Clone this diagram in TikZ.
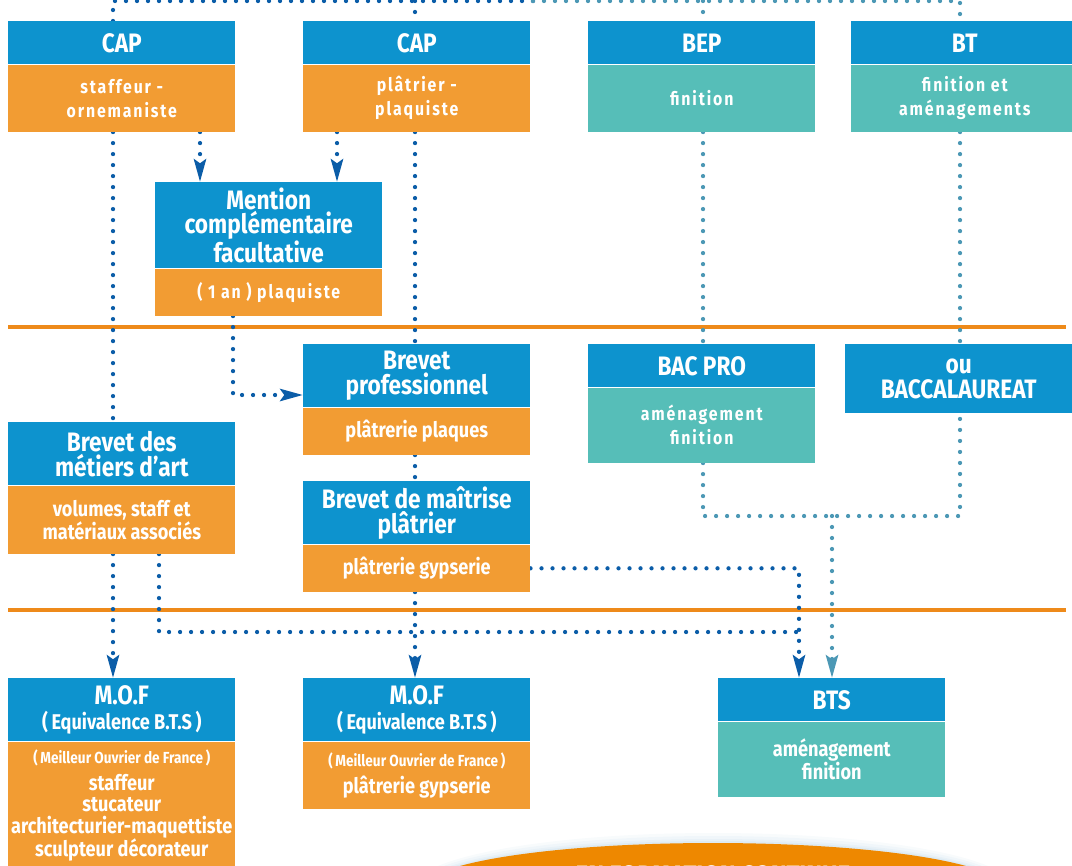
\documentclass[tikz,border=0pt]{standalone}
\usepackage{fontspec}
\setmainfont{Fira Sans}
\newfontfamily\hdfont{Fira Sans}[FakeStretch=0.85]
\newfontfamily\spfont{Fira Sans}[FakeStretch=0.85,LetterSpace=10]
\usetikzlibrary{arrows.meta,backgrounds}
\definecolor{hblue}{HTML}{0D93CE}
\definecolor{borange}{HTML}{F29C33}
\definecolor{bteal}{HTML}{56BEB8}
\definecolor{sepor}{HTML}{EE8A1A}
\definecolor{dkdot}{HTML}{0B5DA8}
\definecolor{ltdot}{HTML}{4C98B5}
\definecolor{ellor}{HTML}{EE8800}
\definecolor{glowc}{HTML}{B8D4E6}
\begin{document}
\begin{tikzpicture}[x=0.75pt,y=-0.75pt,
  box/.style={anchor=north west, inner sep=0pt, minimum width=170.25pt, text=white, align=center},
  hd/.style={box, fill=hblue, font=\hdfont\bfseries\fontsize{20}{18.5}\selectfont},
  sub/.style={font=\spfont\bfseries\fontsize{14}{18}\selectfont},
  pl/.style={font=\hdfont\bfseries\fontsize{16}{17}\selectfont},
  bdo/.style={box, fill=borange, sub},
  bdt/.style={box, fill=bteal, sub},
  hgt/.style={minimum height=#1*0.75pt},
  dk/.style={draw=dkdot, line width=3.2pt, line cap=round, dash pattern=on 0pt off 8.25pt},
  lt/.style={draw=ltdot, line width=3.2pt, line cap=round, dash pattern=on 0pt off 8.25pt},
  arr/.style={-{Stealth[length=17pt,width=9pt,inset=3pt]}},
  sepl/.style={draw=sepor, line width=2.4pt}]
\useasboundingbox (0,0) rectangle (1072,865);
\clip (0,0) rectangle (1072,865);

% boxes
\node[hd,hgt=43] (cap1h) at (8,21) {CAP};
\node[bdo,hgt=67] (cap1b) at (cap1h.south west) {staffeur -\\ornemaniste};
\node[hd,hgt=43] (cap2h) at (303,21) {CAP};
\node[bdo,hgt=67] (cap2b) at (cap2h.south west) {plâtrier -\\plaquiste};
\node[hd,hgt=43] (beph) at (588,21) {BEP};
\node[bdt,hgt=67] (bepb) at (beph.south west) {finition};
\node[hd,hgt=43] (bth) at (851,21) {BT};
\node[bdt,hgt=67] (btb) at (bth.south west) {finition et\\aménagements};

\node[hd,hgt=86] (menh) at (155,182) {Mention\\complémentaire\\facultative};
\node[bdo,hgt=47] (menb) at (menh.south west) {( 1 an ) plaquiste};

\node[hd,hgt=63] (bph) at (303,344) {Brevet\\professionnel};
\node[bdo,hgt=47,pl] (bpb) at (bph.south west) {plâtrerie plaques};

\node[hd,hgt=63] (bmah) at (8,422) {Brevet des\\métiers d’art};
\node[bdo,hgt=68,pl] (bmab) at (bmah.south west) {volumes, staff et\\matériaux associés};

\node[hd,hgt=63] (bmh) at (303,481) {Brevet de maîtrise\\plâtrier};
\node[bdo,hgt=47,pl] (bmb) at (bmh.south west) {plâtrerie gypserie};

\node[hd,hgt=43] (bacproh) at (588,344) {BAC PRO};
\node[bdt,hgt=75] (bacprob) at (bacproh.south west) {aménagement\\finition};

\node[hd,hgt=69] (bacch) at (845,344) {ou\\BACCALAUREAT};

\node[hd,hgt=63,font=\hdfont\bfseries\fontsize{20}{19}\selectfont] (mof1h) at (8,678)
  {M.O.F\\{\fontsize{16}{19}\selectfont (\,Equivalence B.T.S\,)}};
\node[bdo,hgt=128,font=\hdfont\bfseries\fontsize{16}{16}\selectfont] (mof1b) at (mof1h.south west)
  {{\fontsize{12}{16}\selectfont (\,Meilleur Ouvrier de France\,)}\\[4pt]staffeur\\stucateur\\architecturier-maquettiste\\sculpteur décorateur};

\node[hd,hgt=63,font=\hdfont\bfseries\fontsize{20}{19}\selectfont] (mof2h) at (303,678)
  {M.O.F\\{\fontsize{16}{19}\selectfont (\,Equivalence B.T.S\,)}};
\node[bdo,hgt=67,font=\hdfont\bfseries\fontsize{16}{16}\selectfont] (mof2b) at (mof2h.south west)
  {{\fontsize{12}{16}\selectfont (\,Meilleur Ouvrier de France\,)}\\[4pt]plâtrerie gypserie};

\node[hd,hgt=43] (btsh) at (718,678) {BTS};
\node[bdt,hgt=75,pl] (btsb) at (btsh.south west) {aménagement\\finition};

% ellipse
\foreach \i/\o in {10/0.10,7/0.12,4/0.15,2/0.2}
  \fill[glowc,opacity=\o] (713,888) ellipse [x radius=290+\i, y radius=45+\i];
\fill[ellor] (713,888) ellipse [x radius=290, y radius=45];
\node[font=\hdfont\bfseries\fontsize{21}{21}\selectfont, text=white, anchor=base] (efc) at (713,885) {EN FORMATION CONTINUE};

% coordinates
\coordinate (t1) at (113,1);
\coordinate (tm) at (533,1);
\coordinate (t2) at (415,1);
\coordinate (t3) at (703,1);
\coordinate (t4) at (960,1);
\coordinate (xa) at (113,0);
\coordinate (xb) at (200,0);
\coordinate (xc) at (337,0);
\coordinate (xd) at (415,0);
\coordinate (xe) at (233,395);
\coordinate (xf) at (159,632);
\coordinate (xg) at (799,632);
\coordinate (xh) at (703,516);
\coordinate (xi) at (960,516);
\coordinate (xj) at (832,516);

\begin{scope}[on background layer]
\draw[sepl] (8,327) -- (1066,327);
\draw[sepl] (8,610) -- (1066,610);

\draw[dk] (cap1h.north -| t1) -- (t1) -- (tm);
\draw[dk] (t2) -- (cap2h.north -| t2);
\draw[lt] (tm) -- (t4) -- (bth.north -| t4);
\draw[lt] (t3) -- (beph.north -| t3);

\draw[dk] (cap1b.south -| xa) -- (bmah.north -| xa);
\draw[dk,arr] (bmab.south -| xa) -- (mof1h.north -| xa);
\draw[dk,arr] (cap1b.south -| xb) -- (menh.north -| xb);
\draw[dk,arr] (cap2b.south -| xc) -- (menh.north -| xc);
\draw[dk] (cap2b.south -| xd) -- (bph.north -| xd);
\draw[dk] (bpb.south -| xd) -- (bmh.north -| xd);
\draw[dk,arr] (bmb.south -| xd) -- (mof2h.north -| xd);
\draw[dk,arr] (menb.south -| xe) -- (xe) -- (xe -| bph.west);
\draw[dk] (bmab.south -| xf) -- (xf) -- (xg);
\draw[dk,arr] (bmb.east) -- (bmb.east -| xg) -- (btsh.north -| xg);

\draw[lt] (bepb.south -| xh) -- (bacproh.north -| xh);
\draw[lt] (bacprob.south -| xh) -- (xh) -- (xi) -- (bacch.south -| xi);
\draw[lt] (btb.south -| xi) -- (bacch.north -| xi);
\draw[lt,arr] (xj) -- (btsh.north -| xj);
\end{scope}
\end{tikzpicture}
\end{document}
